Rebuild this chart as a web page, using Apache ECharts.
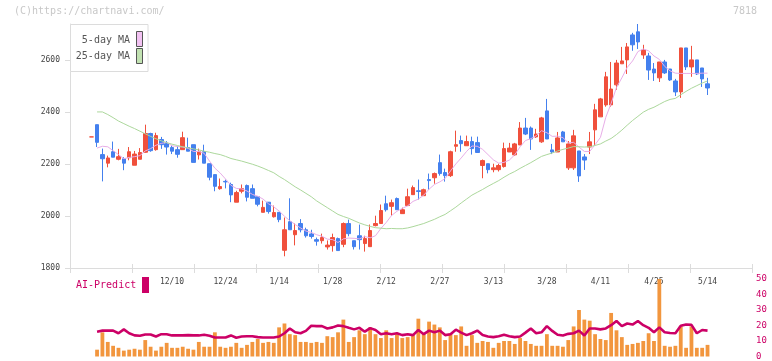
<!DOCTYPE html>
<html><head><meta charset="utf-8">
<script src="https://cdn.jsdelivr.net/npm/echarts@6/dist/echarts.min.js"></script>
<style>html,body{margin:0;padding:0;background:#fff}#c{width:772px;height:361px}</style>
</head><body><div id="c"></div>
<script>
const dates = ['11/19','11/20','11/21','11/22','11/25','11/26','11/27','11/28','11/29',
'12/2','12/3','12/4','12/5','12/6','12/9','12/10','12/11','12/12','12/13','12/16','12/17','12/18','12/19','12/20','12/23','12/24','12/25','12/26','12/27','12/30',
'1/6','1/7','1/8','1/9','1/10','1/14','1/15','1/16','1/17','1/20','1/21','1/22','1/23','1/24','1/27','1/28','1/29','1/30','1/31',
'2/3','2/4','2/5','2/6','2/7','2/10','2/12','2/13','2/14','2/17','2/18','2/19','2/20','2/21','2/25','2/26','2/27','2/28',
'3/3','3/4','3/5','3/6','3/7','3/10','3/11','3/12','3/13','3/14','3/17','3/18','3/19','3/21','3/24','3/25','3/26','3/27','3/28','3/31',
'4/1','4/2','4/3','4/4','4/7','4/8','4/9','4/10','4/11','4/14','4/15','4/16','4/17','4/18','4/21','4/22','4/23','4/24','4/25','4/28','4/30',
'5/1','5/2','5/7','5/8','5/9','5/12','5/13','5/14'];
const tickLabels = ['12/10','12/24','1/14','1/28','2/12','2/27','3/13','3/28','4/11','4/25','5/14'];

const opens = [2304,2351,2236,2203,2247,2218,2220,2224,2195,2218,
2245,2317,2255,2294,2278,2263,2255,2255,2263,2274,
2235,2247,2201,2159,2105,2133,2121,2053,2095,2117,
2105,2074,2014,2053,1997,2014,1868,1978,1928,1971,
1947,1931,1909,1905,1881,1886,1913,1891,1971,1905,
1924,1894,1882,1963,1971,2047,2037,2067,2009,2040,
2082,2097,2078,2140,2147,2205,2167,2155,2268,2290,
2270,2286,2282,2194,2201,2178,2178,2190,2246,2235,
2273,2338,2338,2304,2285,2404,2254,2246,2323,2185,
2185,2250,2227,2265,2331,2381,2427,2427,2504,2585,
2600,2696,2708,2619,2615,2565,2531,2592,2565,2519,
2477,2646,2573,2600,2569,2508];
const closes = [2304,2283,2220,2223,2226,2228,2203,2247,2238,2244,
2317,2251,2309,2274,2265,2249,2237,2301,2249,2206,
2247,2203,2149,2114,2113,2131,2081,2090,2105,2072,
2068,2045,2033,2017,2013,1986,1947,1947,1944,1947,
1924,1921,1903,1917,1888,1917,1867,1971,1932,1882,
1909,1913,1944,1971,2021,2024,2051,2024,2024,2074,
2109,2094,2101,2136,2163,2163,2155,2247,2274,2278,
2286,2259,2244,2213,2178,2185,2194,2259,2261,2277,
2338,2315,2296,2315,2377,2296,2246,2300,2285,2277,
2308,2154,2215,2285,2408,2450,2535,2488,2588,2596,
2650,2658,2669,2638,2561,2550,2592,2550,2523,2477,
2646,2573,2600,2546,2527,2492];
const lows = [2304,2265,2133,2187,2226,2214,2176,2214,2195,2218,
2243,2247,2251,2258,2236,2238,2224,2255,2249,2206,
2217,2203,2137,2095,2101,2106,2053,2053,2087,2056,
2068,2037,2014,2009,1994,1976,1845,1947,1887,1937,
1917,1913,1886,1894,1871,1863,1867,1880,1922,1871,
1871,1863,1882,1960,1971,2017,2001,2024,2009,2040,
2082,2063,2078,2101,2124,2155,2132,2150,2247,2247,
2270,2236,2244,2145,2164,2168,2171,2186,2246,2231,
2273,2311,2254,2300,2281,2296,2238,2246,2285,2177,
2177,2131,2177,2238,2269,2381,2420,2420,2485,2585,
2546,2635,2642,2604,2523,2519,2515,2546,2519,2461,
2454,2561,2535,2542,2496,2465];
const highs = [2304,2351,2259,2232,2286,2258,2226,2265,2250,2261,
2351,2320,2320,2304,2288,2271,2268,2324,2301,2274,
2259,2274,2201,2159,2144,2140,2128,2097,2121,2121,
2121,2074,2059,2053,2040,2014,1994,2068,1971,1988,
1955,1947,1917,1932,1906,1932,1917,1975,1986,1905,
1967,1924,1967,2001,2044,2078,2063,2071,2032,2105,
2117,2140,2105,2163,2167,2236,2182,2251,2328,2309,
2309,2305,2305,2217,2201,2201,2201,2282,2281,2281,
2361,2377,2344,2335,2381,2450,2277,2323,2327,2288,
2331,2250,2238,2323,2431,2454,2554,2592,2600,2650,
2665,2704,2738,2658,2627,2588,2592,2600,2565,2527,
2646,2646,2654,2600,2569,2531];

const ma5 = [null,2261,2268,2266,2251,2236,2220,2225,2228,2232,
2250,2259,2272,2279,2283,2270,2267,2265,2260,2248,
2248,2241,2211,2184,2165,2142,2118,2106,2104,2096,
2083,2076,2065,2047,2035,2019,1999,1982,1967,1954,
1942,1937,1928,1922,1911,1909,1898,1912,1915,1914,
1912,1921,1916,1924,1952,1975,2002,2018,2029,2039,
2056,2065,2080,2103,2121,2131,2144,2173,2200,2223,
2248,2269,2268,2256,2236,2216,2203,2206,2215,2235,
2266,2290,2297,2308,2328,2320,2306,2307,2301,2281,
2283,2265,2248,2248,2274,2302,2379,2433,2494,2531,
2571,2596,2632,2642,2635,2615,2602,2575,2558,2549,
2548,2548,2548,2548,2549,2549];
const ma25 = [null,2400,2400,2390,2378,2365,2355,2345,2336,2326,
2316,2306,2297,2289,2282,2276,2271,2266,2262,2258,
2254,2249,2245,2240,2236,2229,2221,2216,2211,2205,
2199,2192,2184,2175,2166,2152,2140,2126,2112,2100,
2087,2074,2058,2045,2032,2019,2006,1998,1991,1982,
1973,1966,1960,1955,1953,1951,1952,1951,1951,1954,
1959,1965,1971,1979,1987,1997,2006,2020,2034,2050,
2065,2080,2091,2102,2114,2125,2136,2149,2161,2171,
2183,2194,2205,2217,2229,2236,2242,2250,2256,2261,
2267,2266,2265,2266,2271,2277,2288,2298,2313,2330,
2349,2367,2383,2399,2410,2418,2429,2440,2448,2452,
2466,2479,2491,2501,2511,2519];

const volume = [null,4.4,15.6,9.4,6.9,5.6,3.8,4.4,5.0,4.4,
10.6,6.3,3.8,6.3,8.8,5.6,5.6,6.3,5.0,4.4,
9.4,6.3,6.3,15.6,6.3,5.6,6.3,8.8,5.6,7.5,
9.4,11.3,8.8,9.4,8.8,18.8,21.3,14.4,13.8,9.4,
9.4,8.8,9.4,8.8,13.1,12.5,15.6,23.8,9.4,12.5,
16.9,14.4,18.8,14.4,11.9,16.9,11.9,14.4,11.9,12.5,
14.4,24.4,14.4,22.5,20.6,18.8,10.6,15.0,13.8,19.4,
6.9,13.8,8.8,10.0,9.4,5.6,8.8,10.0,10.0,8.1,
11.9,10.0,8.1,6.9,6.9,14.4,6.9,6.9,6.3,10.6,
19.4,30.0,23.8,23.1,14.4,11.3,10.6,28.1,16.9,12.5,
7.5,8.1,8.8,10.0,15.0,10.0,55,6.9,6.3,6.9,
19.4,5.6,19.4,5.6,5.6,7.5];
const aiPredict = [null,16.0,16.7,16.7,16.7,15.0,17.5,15.0,13.6,13.4,
14.2,14.2,12.9,14.4,14.4,13.6,13.6,13.6,13.8,13.6,
13.6,14.0,13.4,12.3,12.3,12.3,13.6,12.1,12.9,13.1,
13.1,12.5,12.3,12.3,12.3,12.9,15.0,18.1,15.6,15.0,
16.5,19.8,19.6,19.6,18.1,18.8,20.0,19.6,18.5,17.5,
18.5,16.0,18.3,17.1,14.4,15.0,14.4,15.0,13.8,14.4,
13.8,17.1,14.4,16.7,15.6,16.7,13.8,14.4,17.3,15.4,
13.8,15.0,16.7,13.8,12.9,12.5,13.1,14.0,13.1,12.5,
12.9,15.4,18.1,15.0,15.6,19.6,16.5,14.0,13.6,14.6,
15.0,16.7,13.6,18.1,18.1,17.5,18.1,20.2,22.9,19.6,
21.3,20.6,22.9,20.2,18.5,15.6,18.8,15.6,15.2,15.0,
19.8,20.6,20.4,15.0,17.1,16.7];
const priceTicks = [1800,2000,2200,2400,2600];
const volTicks = [0,10,20,30,40,50];

// layout
const W = 772, H = 361;
const FIRST_X = 91.7, STEP = 5.355;
const dataLeft = FIRST_X - STEP / 2;
const dataRight = W - (dataLeft + dates.length * STEP);
const frameLeft = 70, frameRight = W - 752;
const mainTop = 24, mainBottom = H - 268;
const volTop = 279, volBottom = H - 359;
const MONO = '"DejaVu Sans Mono", monospace';
const UP = '#f0503c', DOWN = '#4480ee';
const CRIMSON = '#cc0066';

const candleData = dates.map((d, i) => [opens[i], closes[i], lows[i], highs[i]]);
const priceMax = Math.max(...highs);

const chart = echarts.init(document.getElementById('c'), null, {renderer: 'canvas'});
chart.setOption({
  animation: false,
  backgroundColor: '#fff',
  grid: [
    {left: frameLeft, right: frameRight, top: mainTop, bottom: mainBottom},
    {left: dataLeft, right: dataRight, top: mainTop, bottom: mainBottom},
    {left: dataLeft, right: dataRight, top: volTop, bottom: volBottom}
  ],
  xAxis: [
    {gridIndex: 0, type: 'value', min: 0, max: 11, interval: 1,
     axisLine: {show: true, lineStyle: {color: '#dcdcdc', width: 1}},
     axisTick: {show: true, inside: true, length: 4, lineStyle: {color: '#dcdcdc'}},
     axisLabel: {show: false}, splitLine: {show: false}},
    {gridIndex: 0, type: 'value', min: 0, max: 11, interval: 1, position: 'bottom',
     axisLine: {show: false},
     axisTick: {show: true, inside: false, length: 5, lineStyle: {color: '#dcdcdc'}},
     axisLabel: {show: false}, splitLine: {show: false}},
    {gridIndex: 1, type: 'category', data: dates, boundaryGap: true,
     axisLine: {show: false}, axisTick: {show: false}, splitLine: {show: false},
     axisLabel: {show: true, interval: (i, v) => tickLabels.includes(v), hideOverlap: false,
       margin: 10, fontSize: 8, fontFamily: MONO, color: '#444'}},
    {gridIndex: 2, type: 'category', data: dates, boundaryGap: true, show: false}
  ],
  yAxis: [
    {gridIndex: 0, type: 'value', min: 1800, max: priceMax, show: false},
    {gridIndex: 1, type: 'value', min: 1800, max: priceMax, position: 'left', offset: dataLeft - frameLeft,
     axisLine: {show: true, lineStyle: {color: '#dcdcdc', width: 1}},
     axisTick: {show: true, length: 5, customValues: priceTicks, lineStyle: {color: '#dcdcdc'}},
     axisLabel: {show: true, customValues: priceTicks, formatter: v => String(v), margin: 10, fontSize: 8, fontFamily: MONO, color: '#444'},
     splitLine: {show: false}},
    {gridIndex: 2, type: 'value', min: 0, max: 50, interval: 10, position: 'right',
     offset: (W - frameRight) - (W - dataRight),
     axisLine: {show: false}, axisTick: {show: false}, splitLine: {show: false},
     axisLabel: {show: true, margin: 4, fontSize: 9, fontFamily: MONO, color: CRIMSON, customValues: volTicks, formatter: v => String(v)}}
  ],
  series: [
    {type: 'candlestick', xAxisIndex: 2, yAxisIndex: 1, data: candleData, barWidth: 4,
     itemStyle: {color: UP, color0: DOWN, borderColor: UP, borderColor0: DOWN, borderWidth: 1}},
    {type: 'line', xAxisIndex: 2, yAxisIndex: 1, data: ma5, symbol: 'none', connectNulls: false,
     lineStyle: {color: '#e8aee8', width: 1}, z: 3},
    {type: 'line', xAxisIndex: 2, yAxisIndex: 1, data: ma25, symbol: 'none',
     lineStyle: {color: '#acd89c', width: 1}, z: 3},
    {type: 'bar', xAxisIndex: 3, yAxisIndex: 2, data: volume, barWidth: 3.8,
     itemStyle: {color: '#f2963e'}, z: 3},
    {type: 'line', xAxisIndex: 3, yAxisIndex: 2, data: aiPredict, symbol: 'none',
     lineStyle: {color: CRIMSON, width: 2.6}, z: 4}
  ],
  graphic: [
    {type: 'text', left: 14, top: 6, z: 10, style: {text: '(C)https://chartnavi.com/', font: '10px ' + MONO, fill: '#c8c8c8'}},
    {type: 'text', right: 15, top: 6, z: 10, style: {text: '7818', font: '10px ' + MONO, fill: '#c8c8c8'}},
    {type: 'rect', shape: {x: 70.5, y: 24.5, width: 77.5, height: 47}, z: 10,
     style: {fill: '#fff', stroke: '#dcdcdc', lineWidth: 1}},
    {type: 'text', z: 11, style: {x: 130, y: 40, text: '5-day MA', font: '10px ' + MONO, fill: '#555', align: 'right', verticalAlign: 'middle'}},
    {type: 'text', z: 11, style: {x: 130, y: 56.5, text: '25-day MA', font: '10px ' + MONO, fill: '#555', align: 'right', verticalAlign: 'middle'}},
    {type: 'rect', z: 11, shape: {x: 136.5, y: 31.5, width: 6, height: 15}, style: {fill: '#f2c2f2', stroke: '#555', lineWidth: 1}},
    {type: 'rect', z: 11, shape: {x: 136.5, y: 48.5, width: 6, height: 15}, style: {fill: '#c2e2b2', stroke: '#555', lineWidth: 1}},
    {type: 'text', z: 11, style: {x: 76, y: 285.5, text: 'AI-Predict', font: '10px ' + MONO, fill: CRIMSON, align: 'left', verticalAlign: 'middle'}},
    {type: 'rect', z: 11, shape: {x: 142, y: 277, width: 7, height: 16}, style: {fill: CRIMSON}}
  ]
});
</script>
</body></html>
